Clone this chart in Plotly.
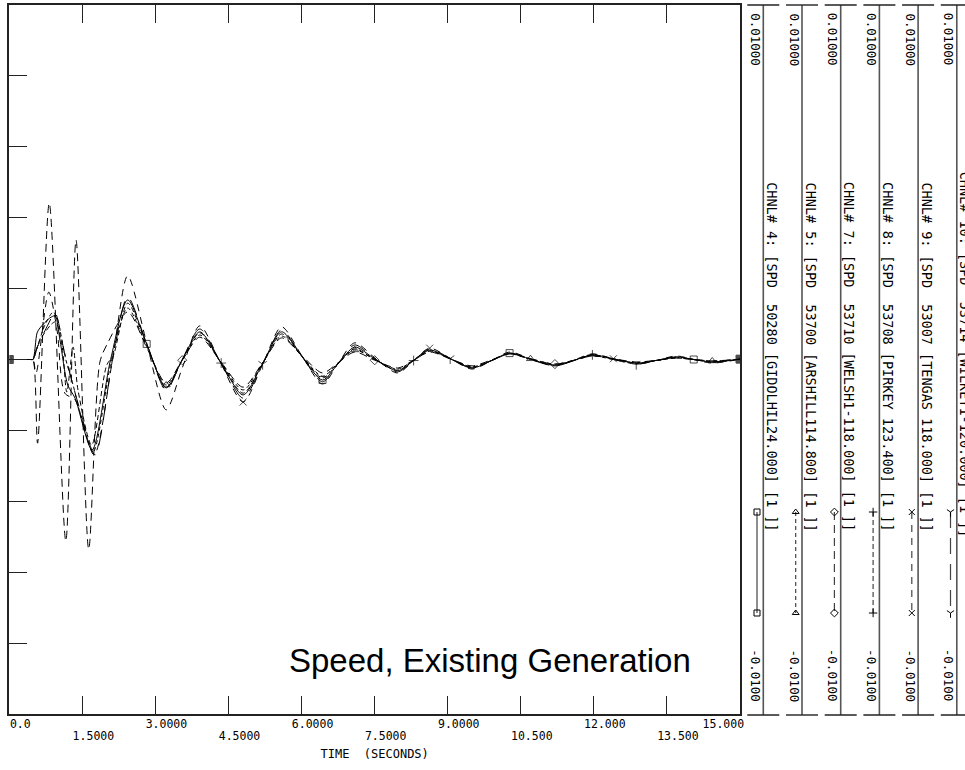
import plotly.graph_objects as go

# ---------------- data (speed deviation, pu) ----------------
channel_ids = ["4", "5", "7", "8", "9", "10"]
channel_labels = [
    "CHNL# 4: [SPD  50280 [GIDOLHIL24.000] [1 ]]",
    "CHNL# 5: [SPD  53700 [ARSHILL114.800] [1 ]]",
    "CHNL# 7: [SPD  53710 [WELSH1-118.000] [1 ]]",
    "CHNL# 8: [SPD  53708 [PIRKEY 123.400] [1 ]]",
    "CHNL# 9: [SPD  53007 [TENGAS 118.000] [1 ]]",
    "CHNL# 10: [SPD  53714 [WILKEY1-120.000] [1 ]]",
]
scale_top = "0.01000"
scale_bottom = "-0.0100"

t_common = [2.43, 2.82, 3.22, 3.55, 3.91, 4.35, 4.8, 5.2, 5.59, 6.0, 6.43, 6.75,
            7.09, 7.5, 7.97, 8.3, 8.63, 9.05, 9.5, 9.9, 10.27, 10.7, 11.2, 11.6,
            11.97, 12.4, 12.87, 13.3, 13.69, 14.05, 14.43, 15.0]

ch4_t = [0, 0.44, 0.486, 0.57, 0.63, 0.83, 0.94, 1.04, 1.2, 1.35, 1.7, 2.08] + t_common
ch4_v = [0, 0, 0, 0.00075, 0.00089, 0.00117, 0.00123, 0.00055, -0.00072, -0.00109, -0.00255, 0.0,
         0.00168, 0.00044, -0.00080, -0.00001, 0.00078, -0.00011, -0.00100, -0.00011, 0.00078, 0.00010,
         -0.00058, -0.00012, 0.00035, 0.00002, -0.00032, -0.00003, 0.00027, 0.00002, -0.00024, -0.00003,
         0.00018, 0.00001, -0.00016, -0.00002, 0.00013, 0.00002, -0.00010, -0.00002, 0.00007, 0.0,
         -0.00007, 0.00001]

ch5_t = [0, 0.44, 0.486, 0.59, 0.73, 0.9, 0.98, 1.16, 1.31, 1.49, 1.72, 2.1] + t_common
ch5_v = [0, 0, 0, 0.00041, 0.00097, 0.00134, 0.00117, 0.0, -0.00072, -0.00171, -0.00261, 0.0,
         0.00145, 0.00037, -0.00072, -0.00002, 0.00069, -0.00009, -0.00086, -0.00010, 0.00066, 0.00010,
         -0.00047, -0.00010, 0.00027, 0.0, -0.00027, -0.00002, 0.00024, 0.00002, -0.00021, -0.00003,
         0.00016, 0.00002, -0.00013, -0.00002, 0.00010, 0.0, -0.00010, -0.00003, 0.00004, 0.0,
         -0.00004, 0.00001]

ch7_t = [0, 0.44, 0.486, 0.58, 0.82, 1.16, 1.37, 1.63, 1.86, 2.0] + t_common
ch7_v = [0, 0, 0, -0.00236, 0.00441, -0.00512, 0.00337, -0.00535, -0.00007, 0.00041,
         0.00134, 0.00034, -0.00066, -0.00002, 0.00063, -0.00008, -0.00078, -0.00009, 0.00061, 0.00012,
         -0.00038, -0.00009, 0.00021, -0.00002, -0.00024, -0.00002, 0.00021, 0.00002, -0.00018, -0.00001,
         0.00016, 0.00002, -0.00013, -0.00002, 0.00010, 0.00002, -0.00007, -0.00002, 0.00004, 0.0,
         -0.00004, 0.00001]

ch8_t = [0, 0.44, 0.486, 0.63, 0.94, 1.08, 1.18, 1.31, 1.41, 1.69, 2.0, 2.14] + t_common
ch8_v = [0, 0, 0, 0.00055, 0.00106, 0.00041, -0.00092, 0.00035, -0.00086, -0.00241, -0.00016, 0.00013,
         0.00159, 0.00041, -0.00078, -0.00002, 0.00075, -0.00010, -0.00095, -0.00012, 0.00072, 0.00010,
         -0.00052, -0.00011, 0.00030, 0.0, -0.00030, -0.00003, 0.00024, 0.00002, -0.00021, -0.00003,
         0.00016, 0.0, -0.00016, -0.00002, 0.00013, 0.00002, -0.00010, -0.00002, 0.00007, 0.0,
         -0.00007, 0.00001]

ch9_t = [0, 0.44, 0.486, 0.55, 0.81, 0.98, 1.14, 1.35, 1.74, 2.12] + t_common
ch9_v = [0, 0, 0, -0.00038, 0.00190, 0.00083, -0.00095, -0.00114, -0.00269, 0.0,
         0.00236, 0.00047, -0.00142, -0.00024, 0.00095, -0.00013, -0.00120, -0.00014, 0.00092, 0.00012,
         -0.00069, -0.00011, 0.00047, 0.00005, -0.00038, -0.00003, 0.00032, 0.00003, -0.00027, -0.00003,
         0.00021, 0.00002, -0.00018, -0.00001, 0.00016, 0.00002, -0.00013, -0.00002, 0.00010, 0.0,
         -0.00010, 0.00001]

ch10_t = [0, 0.44, 0.486, 0.55, 0.79, 0.94, 1.12, 1.28, 1.45, 1.76, 2.12] + t_common
ch10_v = [0, 0, 0, 0.00027, 0.00097, 0.00131, 0.00027, -0.00058, -0.00142, -0.00269, 0.0,
          0.00176, 0.00045, -0.00086, 0.0, 0.00086, -0.00012, -0.00109, -0.00013, 0.00083, 0.00010,
          -0.00063, -0.00011, 0.00041, 0.00003, -0.00035, -0.00003, 0.00030, 0.00003, -0.00024, -0.00003,
          0.00018, 0.0, -0.00018, -0.00003, 0.00013, 0.0, -0.00013, -0.00003, 0.00007, 0.0,
          -0.00007, 0.00001]

series_t = [ch4_t, ch5_t, ch7_t, ch8_t, ch9_t, ch10_t]
series_v = [ch4_v, ch5_v, ch7_v, ch8_v, ch9_v, ch10_v]
marker_times = [
    [2.82, 6.43, 10.27, 14.05],
    [3.22, 7.09, 10.7, 14.43],
    [3.55, 7.5, 11.2],
    [4.35, 8.3, 11.97],
    [4.8, 8.63, 12.4],
    [5.2, 9.05, 12.87],
]

x_tick_vals = [0, 1.5, 3, 4.5, 6, 7.5, 9, 10.5, 12, 13.5, 15]
x_tick_text_row1 = ["0.0", "", "3.0000", "", "6.0000", "", "9.0000", "", "12.000", "",
                    "15.000" + "\u00a0" * 8]
x_tick_vals_row2 = [1.5, 4.5, 7.5, 10.5, 13.5]
x_tick_text_row2 = ["1.5000", "4.5000", "7.5000", "10.500", "13.500"]
y_tick_vals = [-0.008, -0.006, -0.004, -0.002, 0, 0.002, 0.004, 0.006, 0.008]

# ---------------- styles ----------------
dashes = ["solid", "4px,3px", "8px,5px", "5px,3px", "7px,6px", "16px,10px"]
symbols = ["square-open", "triangle-up-open", "diamond-open", "cross-thin-open",
           "x-thin-open", "y-down-open"]
INK = "#000000"
MONO = "DejaVu Sans Mono"
W, H = 965, 770
PX_L, PX_R = 9.3, 740.0       # plot area left/right (px)
PX_T, PX_B = 5.0, 714.0       # plot area top/bottom (px)
STRIP_X0, STRIP_DX = 763.3, 38.7


def px_x(px):
    return px / W


def px_y(py):
    return (H - py) / H


fig = go.Figure()

for i, (ts, vs) in enumerate(zip(series_t, series_v)):
    sizes, syms = [], []
    for j, tt in enumerate(ts):
        if i == 0 and (j == 0 or j == len(ts) - 1):
            sizes.append(8)
            syms.append("square")
        elif tt in marker_times[i]:
            sizes.append(7)
            syms.append(symbols[i])
        else:
            sizes.append(0)
            syms.append(symbols[i])
    fig.add_trace(go.Scatter(
        x=ts, y=vs, mode="lines+markers", xaxis="x", yaxis="y",
        line=dict(color=INK, width=1, dash=dashes[i], shape="spline", smoothing=0.8),
        marker=dict(symbol=syms, size=sizes, color=INK, line=dict(color=INK, width=1)),
        showlegend=False, hoverinfo="skip"))

# empty trace so the second tick-label row axis is registered
fig.add_trace(go.Scatter(x=[], y=[], xaxis="x3", yaxis="y", showlegend=False, hoverinfo="skip"))

# legend strips
shapes, annotations = [], []
for i, lab in enumerate(channel_labels):
    vx = STRIP_X0 + STRIP_DX * i
    fig.add_trace(go.Scatter(
        x=[vx - 6.3, vx - 6.3], y=[512, 613], xaxis="x2", yaxis="y2",
        mode="lines+markers",
        line=dict(color="#444", width=1.2, dash=dashes[i]),
        marker=dict(symbol=symbols[i], size=6, color=INK, line=dict(color=INK, width=1)),
        showlegend=False, hoverinfo="skip"))
    shapes.append(dict(type="line", xref="x2", yref="y2", x0=vx, x1=vx, y0=PX_T, y1=715,
                       line=dict(color="#555", width=1.6)))
    for yy in (PX_T, 715):
        shapes.append(dict(type="line", xref="x2", yref="y2", x0=vx - 16, x1=vx + 16,
                           y0=yy, y1=yy, line=dict(color="#222", width=1.4)))
    annotations.append(dict(xref="paper", yref="paper", x=px_x(vx - 8), y=px_y(11), text=scale_top,
                            textangle=90, xanchor="center", yanchor="top", showarrow=False,
                            font=dict(family=MONO, size=12.5, color="black")))
    annotations.append(dict(xref="paper", yref="paper", x=px_x(vx - 8), y=px_y(704), text=scale_bottom,
                            textangle=90, xanchor="center", yanchor="bottom", showarrow=False,
                            font=dict(family=MONO, size=12.5, color="black")))
    annotations.append(dict(xref="paper", yref="paper", x=px_x(vx + 8.5),
                            y=px_y(170 if i == 5 else 180),
                            text=lab.replace(" ", "\u00a0"), textangle=90,
                            xanchor="center", yanchor="top", showarrow=False,
                            font=dict(family=MONO, size=13.5, color="black")))

annotations.append(dict(xref="paper", yref="paper", x=px_x(490), y=px_y(660),
                        text="Speed, Existing Generation", showarrow=False,
                        xanchor="center", yanchor="middle",
                        font=dict(family="Liberation Sans", size=33, color="black")))

axis_font = dict(family=MONO, size=11.5, color="black")
fig.update_layout(
    width=W, height=H, margin=dict(l=0, r=0, t=0, b=0, autoexpand=False),
    paper_bgcolor="white", plot_bgcolor="white", showlegend=False,
    xaxis=dict(domain=[PX_L / W, PX_R / W], range=[0, 15], anchor="y", automargin=False,
               tickmode="array", tickvals=x_tick_vals, ticktext=x_tick_text_row1, tickangle=0,
               ticks="inside", ticklen=18, tickwidth=1.3, tickcolor="#222",
               showline=True, linecolor="#222", linewidth=1.5, mirror="ticks",
               showgrid=False, zeroline=False, tickfont=axis_font,
               ticklabelshift=11, ticklabelstandoff=-2,
               title=dict(text="TIME\u00a0\u00a0(SECONDS)", font=dict(family=MONO, size=12, color="black"),
                          standoff=20)),
    xaxis3=dict(overlaying="x", anchor="y", side="bottom", range=[0, 15], automargin=False,
                tickmode="array", tickvals=x_tick_vals_row2, ticktext=x_tick_text_row2,
                tickangle=0, ticks="", showline=False, showgrid=False, zeroline=False,
                tickfont=axis_font, ticklabelshift=11, ticklabelstandoff=13),
    yaxis=dict(domain=[(H - PX_B) / H, (H - PX_T) / H], range=[-0.01, 0.01], anchor="x",
               automargin=False,
               tickmode="array", tickvals=y_tick_vals, ticks="inside", ticklen=18,
               tickwidth=1.3, tickcolor="#222", showticklabels=False,
               showline=True, linecolor="#222", linewidth=1.5, mirror=True,
               showgrid=False, zeroline=False),
    xaxis2=dict(domain=[PX_R / W, 1], range=[PX_R, W], anchor="y2", visible=False),
    yaxis2=dict(domain=[0, 1], range=[H, 0], anchor="x2", visible=False),
    shapes=shapes, annotations=annotations,
)

fig.write_html("out.html", config={"displayModeBar": False},
               post_script="document.body.style.margin='0px';")
